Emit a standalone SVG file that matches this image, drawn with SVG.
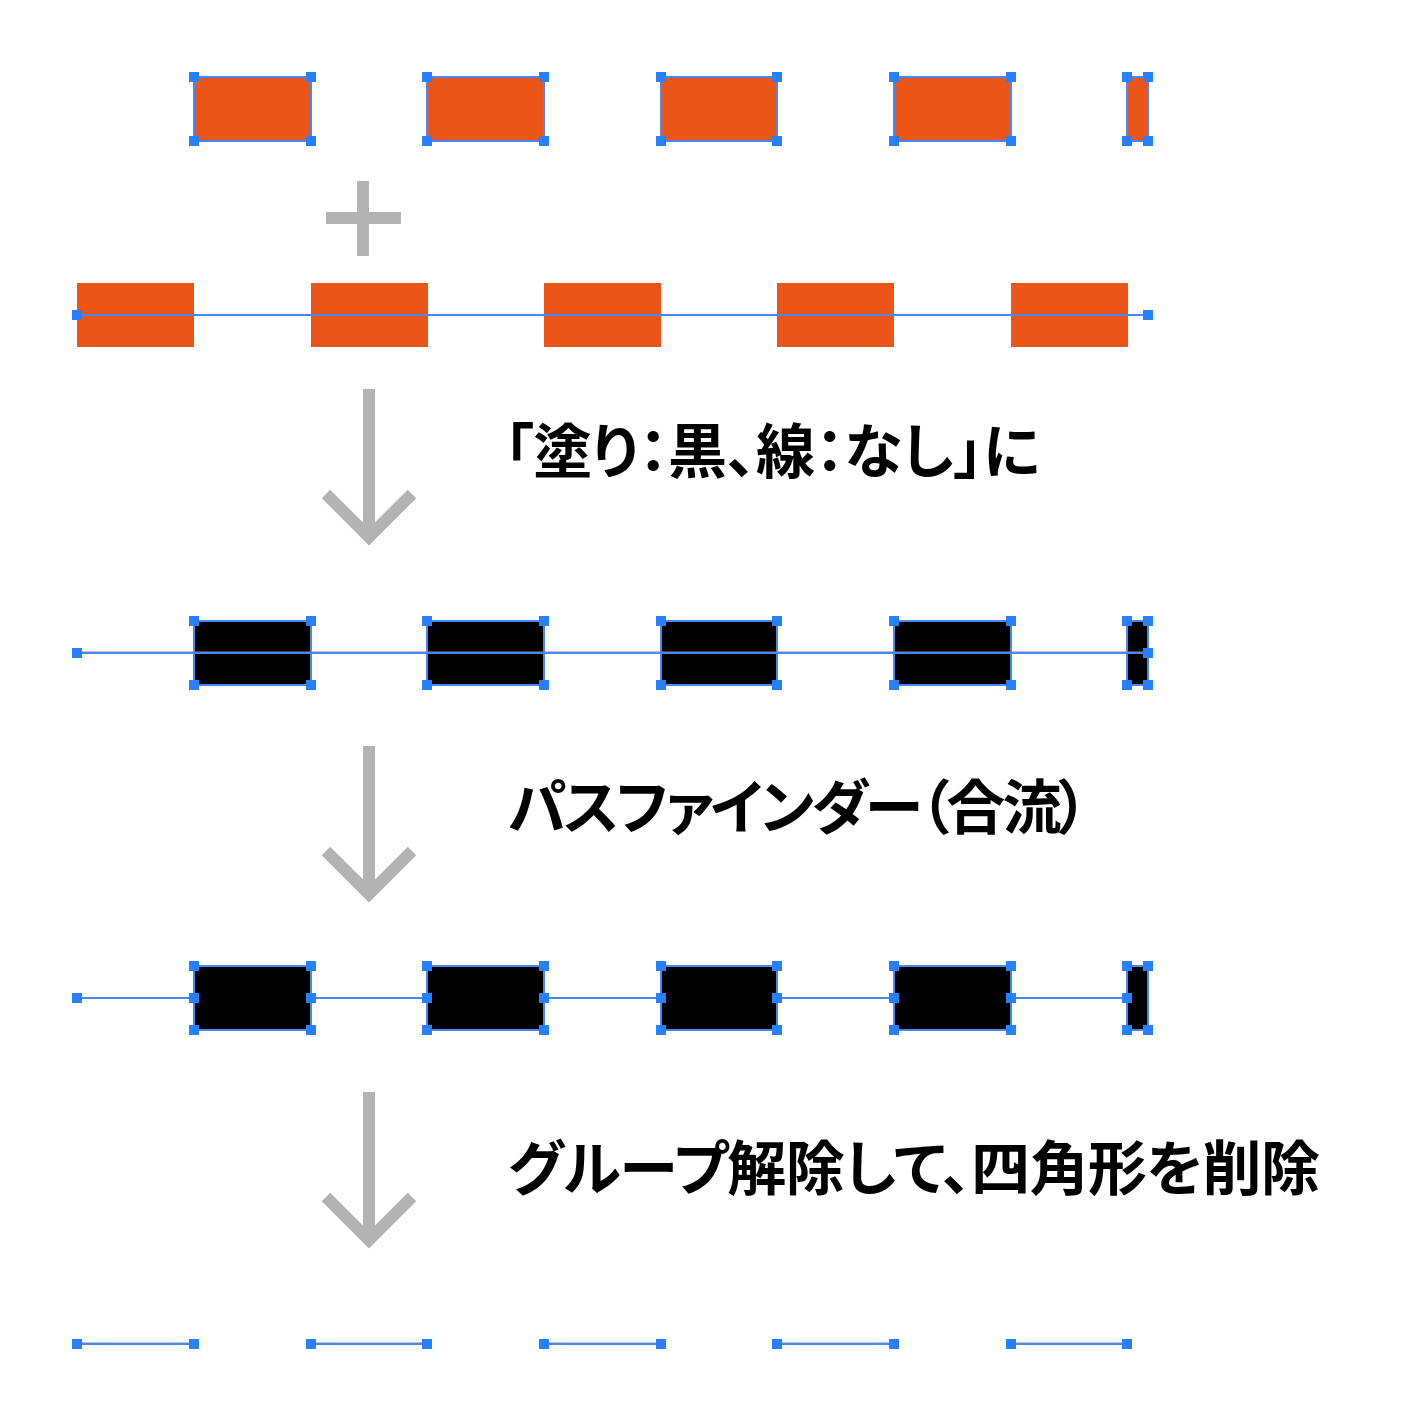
<svg xmlns="http://www.w3.org/2000/svg" xmlns:xlink="http://www.w3.org/1999/xlink" width="1406" height="1426" viewBox="0 0 1406 1426">
<style>
.or{fill:#EB5517}
.bk{fill:#000}
.sel{fill:none;stroke:#4A86F5;stroke-width:2}
.ln{stroke:#4A86F5;stroke-width:2;fill:none}
.gl{stroke:#8A8A8A;stroke-width:1;fill:none}
.ar{stroke:#B3B3B3;stroke-width:12;fill:none;stroke-linejoin:miter;stroke-miterlimit:4}
.lab{font-family:"Noto Sans CJK JP","Noto Sans CJK SC",sans-serif;font-weight:bold;font-size:59px;fill:#000;font-feature-settings:"palt"}
</style>
<defs>
<rect id="h" x="-5" y="-5" width="10" height="10" fill="#2680FF"/>
</defs>
<rect width="1406" height="1426" fill="#fff"/>

<g id="row1">
<rect class="or" x="194" y="77" width="117" height="64"/>
<rect class="or" x="427" y="77" width="117" height="64"/>
<rect class="or" x="661" y="77" width="116" height="64"/>
<rect class="or" x="894" y="77" width="117" height="64"/>
<rect class="or" x="1127" y="77" width="21" height="64"/>
<rect class="sel" x="194" y="77" width="117" height="64"/>
<rect class="sel" x="427" y="77" width="117" height="64"/>
<rect class="sel" x="661" y="77" width="116" height="64"/>
<rect class="sel" x="894" y="77" width="117" height="64"/>
<rect class="sel" x="1127" y="77" width="21" height="64"/>
<use href="#h" x="194" y="77"/><use href="#h" x="311" y="77"/><use href="#h" x="194" y="141"/><use href="#h" x="311" y="141"/>
<use href="#h" x="427" y="77"/><use href="#h" x="544" y="77"/><use href="#h" x="427" y="141"/><use href="#h" x="544" y="141"/>
<use href="#h" x="661" y="77"/><use href="#h" x="777" y="77"/><use href="#h" x="661" y="141"/><use href="#h" x="777" y="141"/>
<use href="#h" x="894" y="77"/><use href="#h" x="1011" y="77"/><use href="#h" x="894" y="141"/><use href="#h" x="1011" y="141"/>
<use href="#h" x="1127" y="77"/><use href="#h" x="1148" y="77"/><use href="#h" x="1127" y="141"/><use href="#h" x="1148" y="141"/>
</g>

<g id="plus" fill="#B3B3B3">
<rect x="357" y="181" width="12" height="75"/>
<rect x="326" y="212" width="75" height="12"/>
</g>

<g id="row2">
<rect class="or" x="77" y="283" width="117" height="64"/>
<rect class="or" x="311" y="283" width="117" height="64"/>
<rect class="or" x="544" y="283" width="117" height="64"/>
<rect class="or" x="777" y="283" width="117" height="64"/>
<rect class="or" x="1011" y="283" width="117" height="64"/>
<line class="ln" x1="77" y1="315" x2="1148" y2="315"/>
<use href="#h" x="77" y="315"/><use href="#h" x="1148" y="315"/>
</g>

<g id="row3">
<rect class="bk" x="194" y="621" width="117" height="64"/>
<rect class="bk" x="427" y="621" width="117" height="64"/>
<rect class="bk" x="661" y="621" width="116" height="64"/>
<rect class="bk" x="894" y="621" width="117" height="64"/>
<rect class="bk" x="1127" y="621" width="21" height="64" rx="6"/>
<rect class="sel" x="194" y="621" width="117" height="64"/>
<rect class="sel" x="427" y="621" width="117" height="64"/>
<rect class="sel" x="661" y="621" width="116" height="64"/>
<rect class="sel" x="894" y="621" width="117" height="64"/>
<rect class="sel" x="1127" y="621" width="21" height="64"/>
<line class="gl" x1="77" y1="652" x2="1148" y2="652"/>
<line class="ln" x1="77" y1="653" x2="1148" y2="653"/>
<use href="#h" x="77" y="653"/><use href="#h" x="1148" y="653"/>
<use href="#h" x="194" y="621"/><use href="#h" x="311" y="621"/><use href="#h" x="194" y="685"/><use href="#h" x="311" y="685"/>
<use href="#h" x="427" y="621"/><use href="#h" x="544" y="621"/><use href="#h" x="427" y="685"/><use href="#h" x="544" y="685"/>
<use href="#h" x="661" y="621"/><use href="#h" x="777" y="621"/><use href="#h" x="661" y="685"/><use href="#h" x="777" y="685"/>
<use href="#h" x="894" y="621"/><use href="#h" x="1011" y="621"/><use href="#h" x="894" y="685"/><use href="#h" x="1011" y="685"/>
<use href="#h" x="1127" y="621"/><use href="#h" x="1148" y="621"/><use href="#h" x="1127" y="685"/><use href="#h" x="1148" y="685"/>
</g>

<g id="row4">
<rect class="bk" x="194" y="966" width="117" height="64"/>
<rect class="bk" x="427" y="966" width="117" height="64"/>
<rect class="bk" x="661" y="966" width="116" height="64"/>
<rect class="bk" x="894" y="966" width="117" height="64"/>
<rect class="bk" x="1127" y="966" width="21" height="64" rx="6"/>
<rect class="sel" x="194" y="966" width="117" height="64"/>
<rect class="sel" x="427" y="966" width="117" height="64"/>
<rect class="sel" x="661" y="966" width="116" height="64"/>
<rect class="sel" x="894" y="966" width="117" height="64"/>
<rect class="sel" x="1127" y="966" width="21" height="64"/>
<path class="ln" d="M77 998H194M311 998H427M544 998H661M777 998H894M1011 998H1127"/>
<use href="#h" x="77" y="998"/>
<use href="#h" x="194" y="966"/><use href="#h" x="311" y="966"/><use href="#h" x="194" y="1030"/><use href="#h" x="311" y="1030"/><use href="#h" x="194" y="998"/><use href="#h" x="311" y="998"/>
<use href="#h" x="427" y="966"/><use href="#h" x="544" y="966"/><use href="#h" x="427" y="1030"/><use href="#h" x="544" y="1030"/><use href="#h" x="427" y="998"/><use href="#h" x="544" y="998"/>
<use href="#h" x="661" y="966"/><use href="#h" x="777" y="966"/><use href="#h" x="661" y="1030"/><use href="#h" x="777" y="1030"/><use href="#h" x="661" y="998"/><use href="#h" x="777" y="998"/>
<use href="#h" x="894" y="966"/><use href="#h" x="1011" y="966"/><use href="#h" x="894" y="1030"/><use href="#h" x="1011" y="1030"/><use href="#h" x="894" y="998"/><use href="#h" x="1011" y="998"/>
<use href="#h" x="1127" y="966"/><use href="#h" x="1148" y="966"/><use href="#h" x="1127" y="1030"/><use href="#h" x="1148" y="1030"/><use href="#h" x="1127" y="998"/>
</g>

<g id="row5">
<path class="gl" d="M77 1343H194M311 1343H427M544 1343H661M777 1343H894M1011 1343H1127"/>
<path class="ln" d="M77 1344H194M311 1344H427M544 1344H661M777 1344H894M1011 1344H1127"/>
<use href="#h" x="77" y="1344"/><use href="#h" x="194" y="1344"/>
<use href="#h" x="311" y="1344"/><use href="#h" x="427" y="1344"/>
<use href="#h" x="544" y="1344"/><use href="#h" x="661" y="1344"/>
<use href="#h" x="777" y="1344"/><use href="#h" x="894" y="1344"/>
<use href="#h" x="1011" y="1344"/><use href="#h" x="1127" y="1344"/>
</g>

<g id="arrows">
<g id="arrow1"><line class="ar" x1="369" y1="389" x2="369" y2="534"/><polyline class="ar" points="326,494 369,537 412,494"/></g>
<g id="arrow2"><line class="ar" x1="369" y1="746" x2="369" y2="891"/><polyline class="ar" points="326,851 369,894 412,851"/></g>
<g id="arrow3"><line class="ar" x1="369" y1="1092" x2="369" y2="1237"/><polyline class="ar" points="326,1197 369,1240 412,1197"/></g>
</g>

<g id="labels">
<text id="label1" class="lab" x="504" y="473" textLength="536" lengthAdjust="spacing">「塗り：黒、線：なし」に</text>
<text id="label2" class="lab" x="508" y="829" textLength="580" lengthAdjust="spacing">パスファインダー（合流）</text>
<text id="label3" class="lab" x="508" y="1190" textLength="812" lengthAdjust="spacing">グループ解除して、四角形を削除</text>
</g>
</svg>
